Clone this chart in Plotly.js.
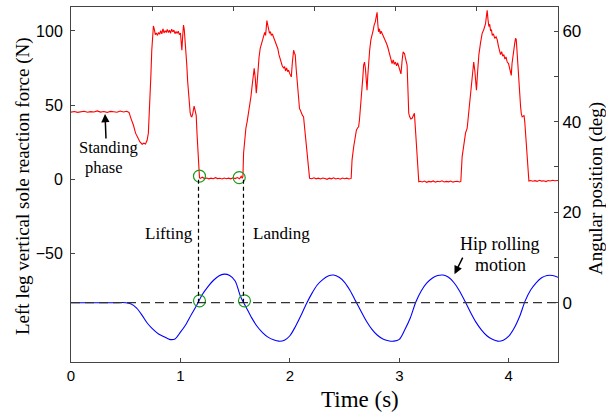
<!DOCTYPE html>
<html>
<head>
<meta charset="utf-8">
<script src="https://cdn.plot.ly/plotly-3.0.1.min.js"></script>
<style>html,body{margin:0;padding:0;background:#fff;}#chart{width:606px;height:416px;}</style>
</head>
<body>
<div id="chart"></div>
<script>
// ---- Data ----
// Left leg vertical sole reaction force (N) vs time (s)
var redT = [
 0,0.03,0.06,0.09,0.12,0.15,0.18,0.21,0.24,0.27,0.30,0.33,0.36,0.39,0.42,0.45,0.48,0.51,0.53,
 0.55,0.57,0.59,0.61,0.63,0.65,0.665,0.68,0.695,0.707,0.715,0.723,0.73,0.738,0.746,0.753,0.762,0.77,0.78,0.79,
 0.80,0.81,0.82,0.83,0.84,0.85,0.86,0.87,0.88,0.89,0.90,0.91,0.92,0.93,0.94,0.95,0.96,0.97,0.98,0.99,1.00,
 1.006,1.013,1.02,1.028,1.035,1.042,1.05,1.058,1.066,1.074,1.082,1.089,1.097,1.104,1.112,1.119,1.125,1.132,1.138,1.144,1.152,1.16,1.168,1.174,
 1.18,1.2,1.22,1.24,1.26,1.28,1.30,1.32,1.34,1.36,1.38,1.40,1.42,1.44,1.46,1.48,1.50,1.52,1.54,1.555,1.565,1.571,
 1.577,1.588,1.598,1.61,1.622,1.633,1.644,1.655,1.665,1.674,1.684,1.693,1.70,1.708,1.718,1.729,1.745,1.76,1.77,1.778,1.784,1.79,1.798,1.806,1.814,1.822,1.83,1.84,1.851,1.86,1.87,1.882,1.89,1.9,1.912,1.92,1.93,1.943,1.952,1.96,1.97,1.98,1.988,2.0,2.013,2.022,2.03,2.034,2.042,2.049,2.057,2.065,2.073,2.08,2.088,2.095,2.105,2.115,2.125,2.135,2.146,2.156,2.168,2.18,
 2.2,2.22,2.24,2.26,2.28,2.30,2.32,2.34,2.36,2.38,2.40,2.42,2.44,2.46,2.48,2.50,2.52,2.54,2.56,
 2.568,2.583,2.596,2.608,2.618,2.628,2.636,2.644,2.652,2.66,2.667,2.674,2.682,2.69,2.697,2.705,2.712,2.72,2.729,2.74,2.75,2.76,2.77,2.78,2.79,2.797,2.803,2.81,2.818,2.826,2.834,2.843,2.853,2.863,2.873,2.883,2.893,2.903,2.913,2.923,2.934,2.944,2.954,2.964,2.975,2.985,2.995,3.005,3.015,3.026,3.035,3.041,3.047,3.055,3.063,3.071,3.08,3.086,3.095,3.105,3.117,3.128,3.138,3.148,3.158,3.168,3.178,
 3.19,3.21,3.23,3.25,3.27,3.29,3.31,3.33,3.35,3.37,3.39,3.41,3.43,3.45,3.47,3.49,3.51,3.53,3.55,3.562,
 3.574,3.59,3.605,3.62,3.635,3.65,3.665,3.68,3.69,3.698,3.705,3.715,3.727,3.742,3.757,3.772,3.78,3.788,3.796,3.803,3.81,3.818,3.826,3.834,3.842,3.849,3.86,3.872,3.884,3.895,3.905,3.915,3.925,3.935,3.945,3.955,3.965,3.975,3.986,3.998,4.01,4.023,4.03,4.038,4.047,4.055,4.062,4.068,4.075,4.083,4.09,4.1,4.108,4.115,4.123,4.132,4.14,4.147,4.155,4.163,4.173,4.184,
 4.2,4.22,4.24,4.26,4.28,4.30,4.32,4.34,4.36,4.38,4.40,4.42,4.45
];
var redF = [
 45.2,45.6,45.0,45.4,45.8,45.1,45.5,45.3,46.0,45.2,45.6,45.0,45.7,45.4,45.1,45.9,45.3,45.8,45.0,
 40.5,36.5,31,27.5,25,23.5,24.2,23.6,26,31,42,53,70,87,98,103.4,101,97.5,98.6,97,
 99,97.8,100.2,98,101.5,98.7,100,99.2,101,99,100.5,98.5,101.2,99.4,100.6,98.2,99.6,98.4,99.8,97.5,98.6,
 92,87,96,104,101,95,84,77,66,57,49,44.6,42.5,42,44,48,49.3,47,44,43,30,17,6,0.8,
 0.4,1.2,0.3,0.7,0.1,0.6,0.2,0.9,0.3,0.5,0.0,0.7,0.2,0.6,0.1,0.8,0.3,1.0,0.2,1.8,0.5,2,
 17.4,27,34.3,39,44.4,50,55.6,63,70,74.8,68,57.9,64,73.6,82,88.3,93,96,99,97,103,107,104,101,98.4,99.5,97,98,96,94.5,92.5,90.5,88,84,80.4,79,76.5,74.8,76,73,75,72.5,73.6,71,69,78,86,87,85,83.8,75,66.9,57,51,47.5,46.6,44,43,42,35,25,17.4,7,0.5,
 0.2,0.8,0.1,0.6,0.0,0.7,0.3,-0.2,0.6,0.1,0.8,0.0,0.5,-0.1,0.7,0.2,0.6,0.0,0.4,
 12.8,21.8,28,33,34.5,35.3,40,46.6,53,60,69,77,79,74.8,67,60,70,80,87,94,98.4,100,104,106,110,112.6,105,99.5,101.5,98,99.8,98.4,97,95.5,94,91.5,89.5,87,84.5,81,78,80.5,77.5,79,76.5,78.5,76,73,71,80.4,86,85,85,82,79,77,58,44.4,42,40.5,41,43,44.4,33,20,8,-1.8,
 -1.5,-2.0,-1.4,-2.2,-1.6,-1.9,-1.3,-2.1,-1.5,-1.8,-1.2,-2.0,-1.6,-1.9,-1.4,-2.1,-1.7,-1.5,-2.0,-1.6,
 15,24,31,34.3,45,58,69,79,73,65,60,72,84,92,98.4,101,103,105,110,114,108,103,104.5,100,101,97,98,95,96,94,90,86,84,86,83,84,81,82.5,79,78,74,70,78,84,88,92,95,94.4,87,76,66,56,49,44,42,42.5,43,38,28,19.6,9,-1.4,
 -1.0,-1.5,-1.1,-1.6,-0.9,-1.4,-1.2,-1.7,-1.0,-1.3,-0.8,-1.2,-1.0
];

// Hip rolling angular position (deg) vs time (s)
var blueT = [0,0.1,0.2,0.3,0.4,0.5,0.55,0.60,0.65,0.70,0.75,0.80,0.85,0.90,0.95,1.00,1.05,1.10,1.15,1.20,1.25,1.30,1.35,1.40,1.45,1.50,1.55,1.60,1.65,1.70,1.75,1.80,1.85,1.90,1.95,2.00,2.05,2.10,2.15,2.20,2.25,2.30,2.35,2.40,2.45,2.50,2.55,2.60,2.65,2.70,2.75,2.80,2.85,2.90,2.95,3.00,3.05,3.10,3.15,3.20,3.25,3.30,3.35,3.40,3.45,3.50,3.55,3.60,3.65,3.70,3.75,3.80,3.85,3.90,3.95,4.00,4.05,4.10,4.15,4.20,4.25,4.30,4.35,4.40,4.45];
var blueA = [0,0,0,0,0,0,-0.3,-1.2,-2.8,-4.6,-5.9,-6.9,-7.5,-8.1,-8.0,-6.5,-4.8,-2.6,-0.5,1.8,3.5,4.9,5.9,6.3,6.0,4.8,1.3,-1.0,-3.3,-5.2,-6.6,-7.6,-8.2,-8.5,-8.3,-7.3,-5.3,-2.9,-0.3,2.0,3.9,5.1,5.9,6.1,5.6,4.5,2.7,0.4,-1.9,-4.1,-5.9,-7.2,-8.0,-8.4,-8.5,-8.1,-6.0,-3.4,0.1,2.6,4.3,5.4,6.0,6.1,5.6,4.4,2.6,0.3,-2.1,-4.3,-6.0,-7.3,-8.1,-8.5,-8.3,-7.4,-5.6,-3.0,0.4,2.8,4.4,5.5,6.0,6.0,5.6];

// Event markers (lifting, landing)
var eventTimes = [1.165, 1.576];
var forceCircleT = [1.174, 1.537];
var forceCircleF = [2.0, 0.9];
var angleCircleT = [1.174, 1.585];
var angleCircleA = [0.4, 0.4];

var xTicks = [0,1,2,3,4];
var yTicks = [-50,0,50,100];
var y2Ticks = [0,20,40,60];
var y2Minor = [10,30,50];
var topTicks = [1,2,3,4,5];

var xRange = [0, 4.45];
var yRange = [-123.6, 116.2];
var y2Range = [-13.1, 65.3];

// level of 0 N expressed on the angle axis (for the vertical connector lines)
var frac0N = (0 - yRange[0]) / (yRange[1] - yRange[0]);
var zeroNinDeg = y2Range[0] + frac0N * (y2Range[1] - y2Range[0]);

var axisCol = '#444';
var sans = 'Liberation Sans, Arial, sans-serif';
var serif = 'Liberation Serif, Times New Roman, serif';

var traces = [
 {x: redT, y: redF, type: 'scatter', mode: 'lines', line: {color: '#ff0000', width: 1.1}, xaxis: 'x', yaxis: 'y', hoverinfo: 'skip'},
 {x: blueT, y: blueA, type: 'scatter', mode: 'lines', line: {color: '#0000ff', width: 1.1, shape: 'spline', smoothing: 0.8}, xaxis: 'x', yaxis: 'y2', hoverinfo: 'skip'},
 {x: forceCircleT, y: forceCircleF, type: 'scatter', mode: 'markers', marker: {symbol: 'circle-open', size: 12, color: '#1a9a1a', line: {width: 1.2}}, xaxis: 'x', yaxis: 'y'},
 {x: angleCircleT, y: angleCircleA, type: 'scatter', mode: 'markers', marker: {symbol: 'circle-open', size: 12, color: '#1a9a1a', line: {width: 1.2}}, xaxis: 'x', yaxis: 'y2'},
 {x: [3], y: [0], type: 'scatter', mode: 'markers', marker: {opacity: 0, size: 1}, xaxis: 'x2', yaxis: 'y', hoverinfo: 'skip'}
];

var shapes = [
 {type: 'line', xref: 'paper', x0: 0, x1: 1, yref: 'y2', y0: 0, y1: 0, line: {color: '#333', width: 1.3, dash: '9px,5px'}, layer: 'above'}
];
eventTimes.forEach(function (t) {
  shapes.push({type: 'line', xref: 'x', x0: t, x1: t, yref: 'y2', y0: 0, y1: zeroNinDeg, line: {color: '#000', width: 1.2, dash: '4px,3px'}});
});

function pa(text, x, y, size, extra) {
  var a = {text: text, xref: 'paper', yref: 'paper', x: x, y: y, showarrow: false, xanchor: 'center', yanchor: 'middle', font: {family: serif, size: size, color: '#000'}};
  if (extra) for (var k in extra) a[k] = extra[k];
  return a;
}
function px(X) { return (X - 71) / 487; }
function py(Y) { return (362 - Y) / 355; }

var annotations = [
 pa('Time (s)', px(360), py(399), 23),
 pa('Left leg vertical sole reaction force (N)', px(23), py(186), 19, {textangle: -90}),
 pa('Angular position (deg)', px(596), py(189), 19, {textangle: -90}),
 pa('Standing', px(108), py(147), 16.5),
 pa('phase', px(104), py(168), 16.5),
 pa('Lifting', px(169), py(233), 17),
 pa('Landing', px(281), py(233), 17),
 pa('Hip rolling', px(500), py(243.5), 18),
 pa('motion', px(500), py(265), 18),
 {text: '', xref: 'x', yref: 'y', x: 0.311, y: 43.9, ax: 1, ay: 26, showarrow: true, arrowhead: 2, arrowsize: 1.1, arrowwidth: 1.5, arrowcolor: '#000'},
 {text: '', xref: 'x', yref: 'y2', x: 3.504, y: 6.3, ax: 9, ay: -18, showarrow: true, arrowhead: 2, arrowsize: 1.1, arrowwidth: 1.5, arrowcolor: '#000'}
];

var layout = {
  width: 606, height: 416,
  margin: {l: 71, r: 48, t: 7, b: 54},
  paper_bgcolor: '#fff', plot_bgcolor: '#fff',
  showlegend: false,
  xaxis: {range: xRange, tickvals: xTicks, ticks: 'inside', ticklen: 4, tickcolor: axisCol, showline: true, linecolor: axisCol, linewidth: 1, showgrid: false, zeroline: false, tickfont: {family: sans, size: 15, color: '#000'}, anchor: 'y'},
  xaxis2: {range: [0, 6], tickvals: topTicks, ticks: 'inside', ticklen: 4, tickcolor: axisCol, showline: true, linecolor: axisCol, linewidth: 1, showgrid: false, zeroline: false, showticklabels: false, overlaying: 'x', side: 'top', anchor: 'y'},
  yaxis: {range: yRange, tickvals: yTicks, ticks: 'inside', ticklen: 4, tickcolor: axisCol, showline: true, linecolor: axisCol, linewidth: 1, showgrid: false, zeroline: false, tickfont: {family: sans, size: 16, color: '#000'}, ticklabelstandoff: 4},
  yaxis2: {range: y2Range, tickvals: y2Ticks, ticks: 'inside', ticklen: 4, tickcolor: axisCol, showline: true, linecolor: axisCol, linewidth: 1, showgrid: false, zeroline: false, overlaying: 'y', side: 'right', anchor: 'x', tickfont: {family: sans, size: 17, color: '#000'},
           minor: {tickvals: y2Minor, ticks: 'inside', ticklen: 4, tickcolor: axisCol}},
  shapes: shapes,
  annotations: annotations
};

Plotly.newPlot('chart', traces, layout, {staticPlot: true, displayModeBar: false});
</script>
</body>
</html>
